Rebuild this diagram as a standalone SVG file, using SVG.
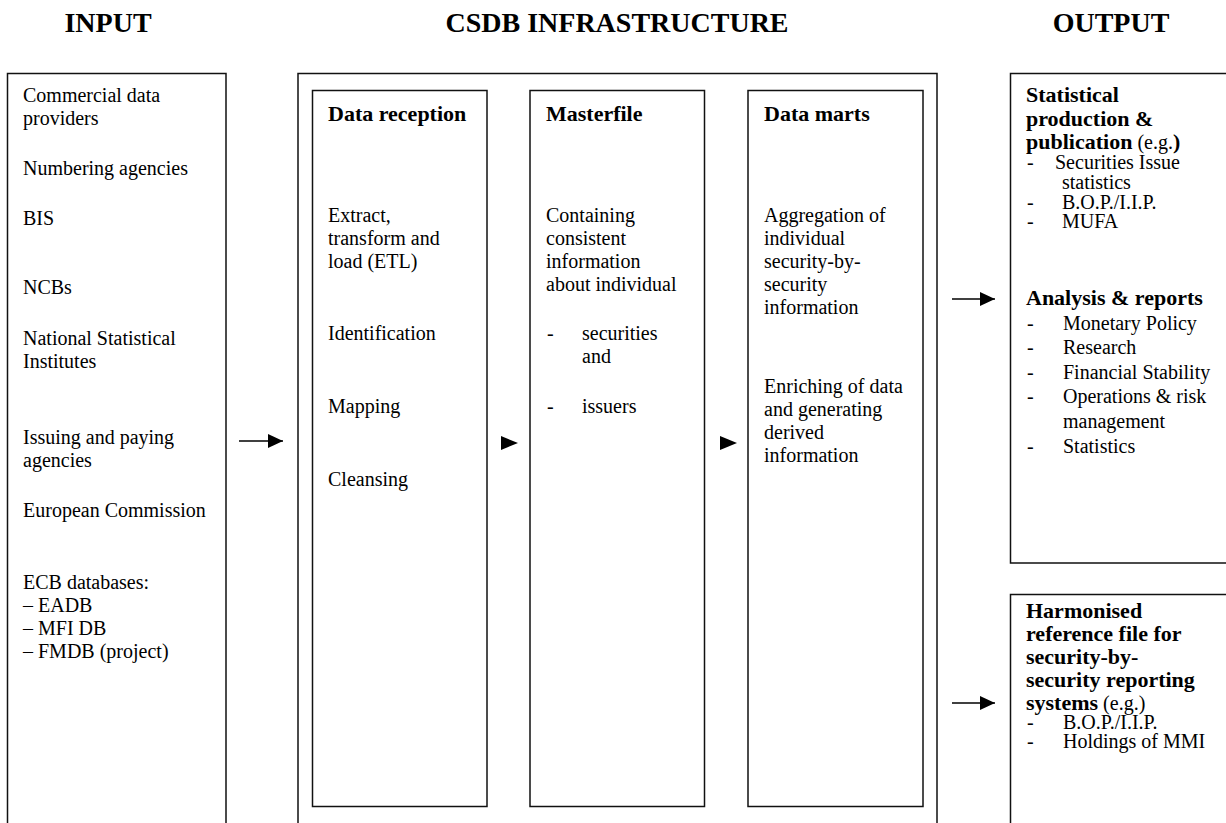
<svg xmlns="http://www.w3.org/2000/svg" width="1226" height="823" viewBox="0 0 1226 823">
<defs>
<style>
text{font-family:"Liberation Serif","Times New Roman",serif;font-size:20px;fill:#000}
.h{font-size:28px;font-weight:bold;text-anchor:middle}
.b{font-weight:bold;font-size:22px}
.box{fill:none;stroke:#111;stroke-width:1.5}
.conn{stroke:#000;stroke-width:1.5;fill:none}
.head{fill:#000}
</style>
<marker id="arr" viewBox="0 0 15 14" refX="15" refY="7" markerWidth="15" markerHeight="14" markerUnits="userSpaceOnUse" orient="auto">
<path d="M0,0 L15,7 L0,14 Z" fill="#000"/>
</marker>
</defs>
<rect width="1226" height="823" fill="#fff"/>

<g id="headings">
<text class="h" x="108" y="32">INPUT</text>
<text class="h" x="617" y="32">CSDB INFRASTRUCTURE</text>
<text class="h" x="1111" y="32">OUTPUT</text>
</g>

<g id="input">
<path class="box" d="M7.5,830 V73.5 H226 V830"/>
<text x="23" y="102">Commercial data</text>
<text x="23" y="125">providers</text>
<text x="23" y="175">Numbering agencies</text>
<text x="23" y="225">BIS</text>
<text x="23" y="294">NCBs</text>
<text x="23" y="345">National Statistical</text>
<text x="23" y="368">Institutes</text>
<text x="23" y="444">Issuing and paying</text>
<text x="23" y="467">agencies</text>
<text x="23" y="517">European Commission</text>
<text x="23" y="589">ECB databases:</text>
<text x="23" y="612">– EADB</text>
<text x="23" y="635">– MFI DB</text>
<text x="23" y="658">– FMDB (project)</text>
</g>

<g id="csdb">
<path class="box" d="M298,830 V73.5 H937 V830"/>
</g>

<g id="data-reception">
<rect class="box" x="312.5" y="90.5" width="174.5" height="716"/>
<text class="b" x="328" y="121">Data reception</text>
<text x="328" y="222">Extract,</text>
<text x="328" y="245">transform and</text>
<text x="328" y="268">load (ETL)</text>
<text x="328" y="340">Identification</text>
<text x="328" y="413">Mapping</text>
<text x="328" y="486">Cleansing</text>
</g>

<g id="masterfile">
<rect class="box" x="530" y="90.5" width="174.5" height="716"/>
<text class="b" x="546" y="121">Masterfile</text>
<text x="546" y="222">Containing</text>
<text x="546" y="245">consistent</text>
<text x="546" y="268">information</text>
<text x="546" y="291">about individual</text>
<text x="547" y="340">-</text>
<text x="582" y="340">securities</text>
<text x="582" y="363">and</text>
<text x="547" y="413">-</text>
<text x="582" y="413">issuers</text>
</g>

<g id="data-marts">
<rect class="box" x="748" y="90.5" width="175" height="716"/>
<text class="b" x="764" y="121">Data marts</text>
<text x="764" y="222">Aggregation of</text>
<text x="764" y="245">individual</text>
<text x="764" y="268">security-by-</text>
<text x="764" y="291">security</text>
<text x="764" y="314">information</text>
<text x="764" y="393">Enriching of data</text>
<text x="764" y="416">and generating</text>
<text x="764" y="439">derived</text>
<text x="764" y="462">information</text>
</g>

<g id="output-statistical">
<path class="box" d="M1230,73.5 H1010.5 V563 H1230"/>
<text class="b" x="1026" y="102">Statistical</text>
<text class="b" x="1026" y="126">production &amp;</text>
<text x="1026" y="149"><tspan class="b">publication</tspan> (e.g.<tspan class="b">)</tspan></text>
<text x="1027" y="169">-</text>
<text x="1055" y="169">Securities Issue</text>
<text x="1062" y="189">statistics</text>
<text x="1027" y="209">-</text>
<text x="1062" y="209">B.O.P./I.I.P.</text>
<text x="1027" y="228">-</text>
<text x="1062" y="228">MUFA</text>
<text class="b" x="1026" y="305">Analysis &amp; reports</text>
<text x="1027" y="330">-</text>
<text x="1063" y="330">Monetary Policy</text>
<text x="1027" y="354">-</text>
<text x="1063" y="354">Research</text>
<text x="1027" y="379">-</text>
<text x="1063" y="379">Financial Stability</text>
<text x="1027" y="403">-</text>
<text x="1063" y="403">Operations &amp; risk</text>
<text x="1063" y="428">management</text>
<text x="1027" y="453">-</text>
<text x="1063" y="453">Statistics</text>
</g>

<g id="output-harmonised">
<path class="box" d="M1230,594.5 H1010.5 V830"/>
<text class="b" x="1026" y="618">Harmonised</text>
<text class="b" x="1026" y="641">reference file for</text>
<text class="b" x="1026" y="664">security-by-</text>
<text class="b" x="1026" y="687">security reporting</text>
<text x="1026" y="710"><tspan class="b">systems</tspan> (e.g.)</text>
<text x="1027" y="729">-</text>
<text x="1063" y="729">B.O.P./I.I.P.</text>
<text x="1027" y="748">-</text>
<text x="1063" y="748">Holdings of MMI</text>
</g>

<g id="connectors">
<line class="conn" x1="239" y1="441" x2="283" y2="441" marker-end="url(#arr)"/>
<path class="head" d="M501,436 L518,443 L501,450 Z"/>
<path class="head" d="M720,436 L737,443 L720,450 Z"/>
<line class="conn" x1="952" y1="299" x2="995" y2="299" marker-end="url(#arr)"/>
<line class="conn" x1="952" y1="703" x2="995" y2="703" marker-end="url(#arr)"/>
</g>
</svg>
